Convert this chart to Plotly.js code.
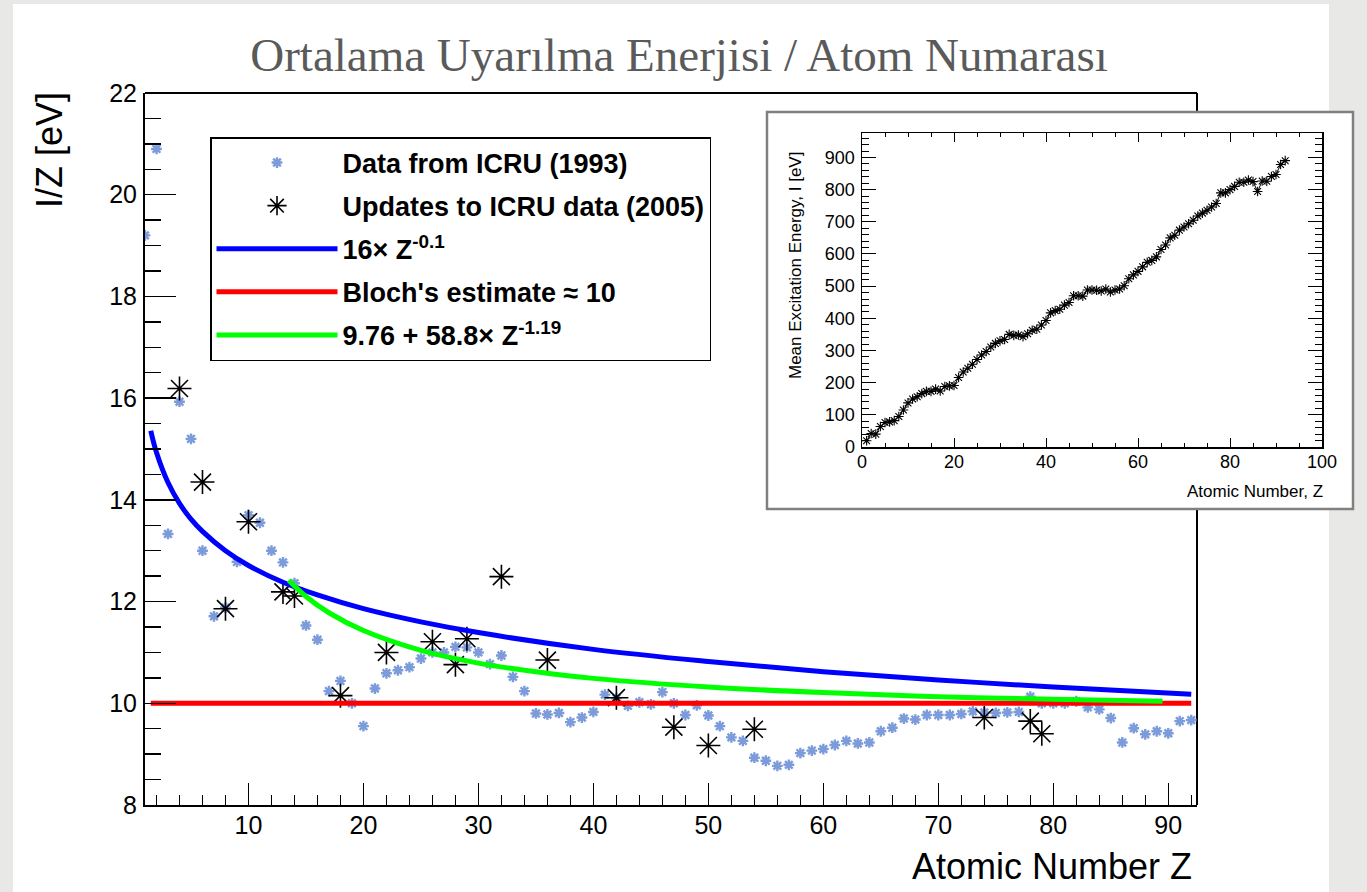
<!DOCTYPE html>
<html><head><meta charset="utf-8">
<script src="https://cdn.plot.ly/plotly-3.0.1.min.js"></script>
<style>html,body{margin:0;padding:0;background:#e8e9e6;}#chart{width:1367px;height:892px;}</style>
</head><body><div id="chart"></div>
<script>
// ---------------- DATA ----------------
const atomicNumber = [1,2,3,4,5,6,7,8,9,10,11,12,13,14,15,16,17,18,19,20,21,22,23,24,25,26,27,28,29,30,
 31,32,33,34,35,36,37,38,39,40,41,42,43,44,45,46,47,48,49,50,51,52,53,54,55,56,57,58,59,60,
 61,62,63,64,65,66,67,68,69,70,71,72,73,74,75,76,77,78,79,80,81,82,83,84,85,86,87,88,89,90,91,92];
// I/Z [eV], ICRU (1993)
const icruIoverZ = [19.20,20.90,13.33,15.93,15.20,13.00,11.71,11.88,12.78,13.70,13.55,13.00,12.77,12.36,11.53,11.25,10.24,10.44,10.00,9.55,
 10.29,10.59,10.65,10.71,10.88,11.00,11.00,11.11,11.10,11.00,10.77,10.94,10.52,10.24,9.80,9.78,9.81,9.63,9.72,9.83,
 10.17,10.10,9.95,10.02,9.98,10.22,10.00,9.77,9.96,9.76,9.55,9.33,9.26,8.93,8.87,8.77,8.79,9.02,9.07,9.10,
 9.18,9.26,9.21,9.23,9.45,9.52,9.70,9.68,9.77,9.77,9.77,9.79,9.84,9.82,9.81,9.82,9.83,10.13,10.00,10.00,
 10.00,10.04,9.92,9.88,9.71,9.23,9.51,9.39,9.45,9.41,9.65,9.67];
// Updates to ICRU data (2005)
const updZ = [4,6,8,10,13,14,18,22,26,28,29,32,36,42,47,50,54,74,78,79];
const updIoverZ = [16.19,14.35,11.86,13.57,12.19,12.11,10.15,11.00,11.21,10.76,11.27,12.49,10.85,10.11,9.53,9.17,9.49,9.72,9.65,9.40];
// curve 16 x Z^-0.1
const powZ = [1.5,2,3,4,5,6,8,10,13,16,20,25,30,40,50,60,70,80,92];
const powVal = [15.36,14.93,14.34,13.93,13.62,13.38,13.00,12.71,12.38,12.13,11.86,11.60,11.39,11.06,10.82,10.62,10.46,10.32,10.18];
// Bloch's estimate
const blochZ = [1.5,92];
const blochVal = [10,10];
// curve 9.76 + 58.8 x Z^-1.19
const fitZ = [13.5,15,17,20,25,30,35,40,50,60,70,80,89.5];
const fitVal = [12.42,12.10,11.78,11.43,11.04,10.79,10.62,10.49,10.32,10.21,10.13,10.08,10.04];
// inset: mean excitation energy I [eV]
const meanI = [19.2,41.8,40,63.7,76,78,82,95,115,137,149,156,166,173,173,180,174,188,190,191,
 216,233,245,257,272,286,297,311,322,330,334,350,347,348,343,352,363,366,379,393,
 417,424,428,441,449,470,470,469,488,488,487,485,491,482,488,491,501,523,535,546,
 560,574,580,591,614,628,650,658,674,684,694,705,718,727,736,746,757,790,790,800,
 810,823,823,830,825,794,827,826,841,847,878,890];

const legendNames = ['Data from ICRU (1993)','Updates to ICRU data (2005)','16\u00d7 Z<sup>-0.1</sup>',"Bloch's estimate \u2248 10",'9.76 + 58.8\u00d7 Z<sup>-1.19</sup>'];

// ---------------- LAYOUT HELPERS ----------------
const W = 1367, H = 892;
const px = v => v / W;
const py = v => 1 - v / H;
const SANS = 'Liberation Sans, Arial, Helvetica, sans-serif';

const traces = [
  {type:'scatter', mode:'markers', name:legendNames[0], legendgroup:'g1', x:atomicNumber, y:icruIoverZ, xaxis:'x', yaxis:'y',
   marker:{symbol:'asterisk-open', size:9, color:'#7b9bdb', line:{width:2.4, color:'#7b9bdb'}}},
  {type:'scatter', mode:'markers', name:legendNames[1], legendgroup:'g2', x:updZ, y:updIoverZ, xaxis:'x', yaxis:'y',
   marker:{symbol:'asterisk-open', size:20, color:'#000000', line:{width:1.6, color:'#000000'}}},
  {type:'scatter', mode:'lines', name:legendNames[2], legendgroup:'g3', x:powZ, y:powVal, xaxis:'x', yaxis:'y',
   line:{color:'#0000ff', width:5, shape:'spline'}},
  {type:'scatter', mode:'lines', name:legendNames[3], legendgroup:'g4', x:blochZ, y:blochVal, xaxis:'x', yaxis:'y',
   line:{color:'#ff0000', width:5}},
  {type:'scatter', mode:'lines', name:legendNames[4], legendgroup:'g5', x:fitZ, y:fitVal, xaxis:'x', yaxis:'y',
   line:{color:'#00ff00', width:5, shape:'spline'}},
  {type:'scatter', mode:'lines+markers', showlegend:false, x:atomicNumber, y:meanI, xaxis:'x2', yaxis:'y2',
   line:{color:'#000000', width:1},
   marker:{symbol:'asterisk-open', size:8, color:'#000000', line:{width:1.1, color:'#000000'}}}
];

const layout = {
  width: W, height: H,
  margin:{l:0, r:0, t:0, b:0},
  paper_bgcolor:'#e8e9e6',
  plot_bgcolor:'rgba(0,0,0,0)',
  showlegend:true,
  title:{text:'Ortalama Uyarılma Enerjisi / Atom Numarası', x:px(679), xanchor:'center', y:py(55), yanchor:'middle',
         font:{family:'Liberation Serif, Times New Roman, serif', size:47, color:'#5a5a5a'}},
  xaxis:{domain:[px(145), px(1197)], range:[1, 92.5], anchor:'y',
    showline:true, linewidth:2, linecolor:'#000', mirror:false, showgrid:false, zeroline:false,
    ticks:'inside', tick0:0, dtick:10, ticklen:22, tickwidth:1.5, tickcolor:'#000',
    minor:{ticks:'inside', dtick:2, tick0:0, ticklen:10, tickwidth:1.5, tickcolor:'#000', showgrid:false},
    tickfont:{family:SANS, size:25, color:'#000'}, ticklabelstandoff:-3},
  yaxis:{domain:[py(805), py(93)], range:[8, 22], anchor:'x',
    showline:true, linewidth:2, linecolor:'#000', mirror:false, showgrid:false, zeroline:false,
    ticks:'inside', tick0:0, dtick:2, ticklen:31, tickwidth:1.5, tickcolor:'#000',
    minor:{ticks:'inside', dtick:0.5, tick0:0, ticklen:16, tickwidth:1.5, tickcolor:'#000', showgrid:false},
    tickfont:{family:SANS, size:25, color:'#000'}, ticklabelstandoff:1},
  xaxis2:{domain:[px(862), px(1322)], range:[0, 100], anchor:'y2',
    showline:true, linewidth:1.5, linecolor:'#000', mirror:'ticks', showgrid:false, zeroline:false,
    ticks:'inside', tick0:0, dtick:20, ticklen:9, tickwidth:1, tickcolor:'#000',
    minor:{ticks:'inside', dtick:5, tick0:0, ticklen:4, tickwidth:1, tickcolor:'#000', showgrid:false},
    tickfont:{family:SANS, size:18, color:'#000'}, ticklabelstandoff:-2},
  yaxis2:{domain:[py(447), py(133)], range:[0, 976], anchor:'x2',
    showline:true, linewidth:1.5, linecolor:'#000', mirror:'ticks', showgrid:false, zeroline:false,
    ticks:'inside', tick0:0, dtick:100, ticklen:14, tickwidth:1, tickcolor:'#000',
    minor:{ticks:'inside', dtick:20, tick0:0, ticklen:7, tickwidth:1, tickcolor:'#000', showgrid:false},
    tickfont:{family:SANS, size:18, color:'#000'}, ticklabelstandoff:2},
  legend:{x:px(210), y:py(137), xref:'paper', yref:'paper', xanchor:'left', yanchor:'top',
    bgcolor:'#ffffff', bordercolor:'#000', borderwidth:1.5,
    font:{family:SANS, size:27, weight:'bold', color:'#000'},
    itemwidth:121, tracegroupgap:5, traceorder:'grouped'},
  shapes:[
    {type:'rect', xref:'paper', yref:'paper', x0:px(13), x1:px(1329), y0:0, y1:py(4), fillcolor:'#ffffff', line:{width:0}, layer:'below'},
    {type:'line', xref:'paper', yref:'paper', x0:px(145), x1:px(1197), y0:py(93), y1:py(93), line:{color:'#000', width:2}, layer:'below'},
    {type:'line', xref:'paper', yref:'paper', x0:px(1197), x1:px(1197), y0:py(805), y1:py(93), line:{color:'#000', width:2}, layer:'below'},
    {type:'rect', xref:'paper', yref:'paper', x0:px(767), x1:px(1353), y0:py(509), y1:py(112), fillcolor:'#ffffff', line:{color:'#808080', width:2.5}, layer:'below'}
  ],
  annotations:[
    {text:'Atomic Number Z', xref:'paper', yref:'paper', x:px(1194), y:py(866), xanchor:'right', yanchor:'middle', showarrow:false,
     font:{family:SANS, size:36, color:'#000'}},
    {text:'I/Z [eV]', xref:'paper', yref:'paper', x:px(49), y:py(150), xanchor:'center', yanchor:'middle', textangle:-90, showarrow:false,
     font:{family:SANS, size:36, color:'#000'}},
    {text:'Atomic Number, Z', xref:'paper', yref:'paper', x:px(1325), y:py(491), xanchor:'right', yanchor:'middle', showarrow:false,
     font:{family:SANS, size:17, color:'#000'}},
    {text:'Mean Excitation Energy, I [eV]', xref:'paper', yref:'paper', x:px(795), y:py(266), xanchor:'center', yanchor:'middle', textangle:-90, showarrow:false,
     font:{family:SANS, size:17, color:'#000'}}
  ]
};

Plotly.newPlot('chart', traces, layout, {displayModeBar:false, staticPlot:true});
</script>
</body></html>
